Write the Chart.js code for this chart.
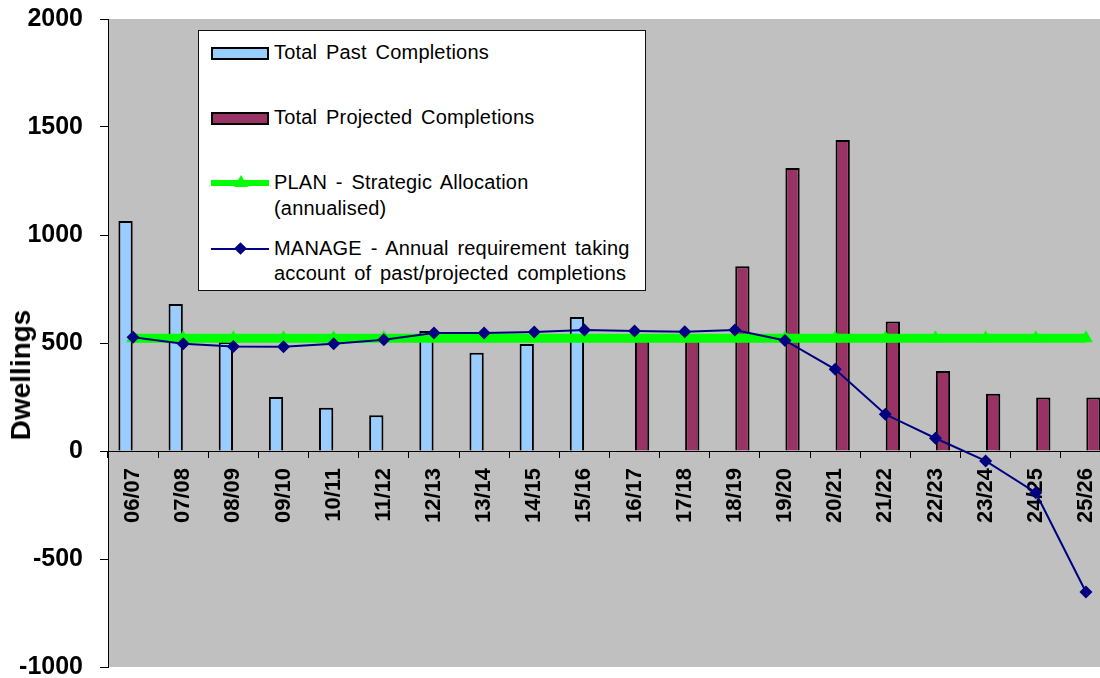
<!DOCTYPE html>
<html>
<head>
<meta charset="utf-8">
<script src="https://cdn.jsdelivr.net/npm/chart.js@4.4.1/dist/chart.umd.min.js"></script>
<style>
  html, body { margin: 0; padding: 0; background: #fff; overflow: hidden; }
  #wrap { position: relative; width: 1119px; height: 690px; font-family: 'Liberation Sans', Arial, sans-serif; }
  #chart { position: absolute; left: 0; top: 0; }
  .ytitle {
    position: absolute; left: 21px; top: 375px; transform: translate(-50%, -50%) rotate(-90deg);
    font-weight: bold; font-size: 28px; white-space: nowrap; color: #000;
  }
  .legend {
    position: absolute; left: 198px; top: 30px; width: 446px; height: 259px;
    background: #fff; border: 1px solid #111; box-sizing: content-box;
  }
  .lg-text { position: absolute; left: 75px; font-size: 20px; line-height: 25px; white-space: nowrap; color: #000; word-spacing: 3px; letter-spacing: 0.2px; }
  .sw-bar { position: absolute; left: 12px; width: 54px; height: 9px; border: 2px solid #000; }
  .sw-line { position: absolute; left: 12px; width: 58px; }
  .tri { position: absolute; width: 0; height: 0; border-left: 7px solid transparent; border-right: 7px solid transparent; border-bottom: 12px solid #00ff00; }
  .dia { position: absolute; width: 9px; height: 9px; background: #000080; transform: rotate(45deg); }
</style>
</head>
<body>
<div id="wrap">
  <canvas id="chart" width="1119" height="690"></canvas>
  <div class="ytitle">Dwellings</div>
  <div class="legend">
    <div class="sw-bar" style="top:16px; background:#99ccff;"></div>
    <div class="lg-text" style="top:9px;">Total Past Completions</div>

    <div class="sw-bar" style="top:81px; background:#993366;"></div>
    <div class="lg-text" style="top:74px;">Total Projected Completions</div>

    <div class="sw-line" style="top:149px; height:6px; background:#00ff00;"></div>
    <div class="tri" style="left:35px; top:144px;"></div>
    <div class="lg-text" style="top:139px;">PLAN - Strategic Allocation</div>
    <div class="lg-text" style="top:165px;">(annualised)</div>

    <div class="sw-line" style="top:217px; height:2px; background:#000080;"></div>
    <div class="dia" style="left:37px; top:213px;"></div>
    <div class="lg-text" style="top:205px;">MANAGE - Annual requirement taking</div>
    <div class="lg-text" style="top:230px;">account of past/projected completions</div>
  </div>
</div>
<script>
const years = ['06/07', '07/08', '08/09', '09/10', '10/11', '11/12', '12/13', '13/14', '14/15', '15/16',
  '16/17', '17/18', '18/19', '19/20', '20/21', '21/22', '22/23', '23/24', '24/25', '25/26'];

const pastCompletions = [1065, 680, 505, 250, 200, 165, 555, 455, 495, 620,
  null, null, null, null, null, null, null, null, null, null];

const projectedCompletions = [null, null, null, null, null, null, null, null, null, null,
  515, 515, 855, 1310, 1440, 600, 370, 265, 248, 248];

const planAllocation = [522, 522, 522, 522, 522, 522, 522, 522, 522, 522,
  522, 522, 522, 522, 522, 522, 522, 522, 522, 522];

const manageRequirement = [527, 497, 484, 483, 497, 515, 546, 546, 551, 560,
  555, 552, 560, 512, 378, 170, 59, -46, -193, -653];

const yTicks = [2000, 1500, 1000, 500, 0, -500, -1000];

const fontFamily = "'Liberation Sans', Arial, sans-serif";

// grey plot area like the Excel original
const plotBackground = {
  id: 'plotBackground',
  beforeDraw(chart) {
    const { ctx, chartArea } = chart;
    ctx.save();
    ctx.fillStyle = '#c0c0c0';
    ctx.fillRect(chartArea.left, chartArea.top, chartArea.right - chartArea.left, chartArea.bottom - chartArea.top);
    ctx.restore();
  },
};

new Chart(document.getElementById('chart'), {
  type: 'bar',
  data: {
    labels: years,
    datasets: [
      {
        label: 'MANAGE - Annual requirement taking account of past/projected completions',
        type: 'line',
        data: manageRequirement,
        borderColor: '#000080',
        backgroundColor: '#000080',
        borderWidth: 2,
        pointStyle: 'rectRot',
        pointRadius: 6.5,
        pointBorderWidth: 0,
        tension: 0,
        order: 0,
      },
      {
        label: 'PLAN - Strategic Allocation (annualised)',
        type: 'line',
        data: planAllocation,
        borderColor: '#00ff00',
        backgroundColor: '#00ff00',
        borderWidth: 9,
        pointStyle: 'triangle',
        pointRadius: 8,
        pointBorderWidth: 0,
        tension: 0,
        order: 1,
      },
      {
        label: 'Total Past Completions',
        data: pastCompletions,
        backgroundColor: '#99ccff',
        borderColor: '#000',
        borderWidth: 2,
        categoryPercentage: 0.6,
        barPercentage: 0.95,
        order: 2,
      },
      {
        label: 'Total Projected Completions',
        data: projectedCompletions,
        backgroundColor: '#993366',
        borderColor: '#000',
        borderWidth: 2,
        categoryPercentage: 0.6,
        barPercentage: 0.95,
        order: 3,
      },
    ],
  },
  options: {
    responsive: false,
    animation: false,
    layout: { padding: { top: 19, right: 3, bottom: 23, left: 0 } },
    plugins: {
      legend: { display: false },
      tooltip: { enabled: false },
    },
    scales: {
      x: {
        position: { y: 0 },
        afterFit(scale) {
          scale.paddingLeft = 0;
          scale.paddingRight = 0;
        },
        grid: { display: true, offset: true, drawOnChartArea: false, tickLength: 6, color: '#000' },
        border: { display: true, color: '#000', width: 1 },
        ticks: {
          autoSkip: false,
          minRotation: 90,
          maxRotation: 90,
          padding: 11,
          color: '#000',
          font: { family: fontFamily, size: 22, weight: 'bold' },
        },
      },
      y: {
        min: -1000,
        max: 2000,
        afterBuildTicks(scale) {
          scale.ticks = yTicks.map((v) => ({ value: v }));
        },
        afterFit(scale) {
          scale.width = 108;
          scale.paddingTop = 0;
          scale.paddingBottom = 0;
        },
        grid: { drawOnChartArea: false, tickLength: 8, color: '#000' },
        border: { display: true, color: '#000', width: 1 },
        ticks: {
          padding: 17,
          color: '#000',
          font: { family: fontFamily, size: 25, weight: 'bold' },
          callback: (v) => String(v),
        },
      },
    },
  },
  plugins: [plotBackground],
});
</script>
</body>
</html>
